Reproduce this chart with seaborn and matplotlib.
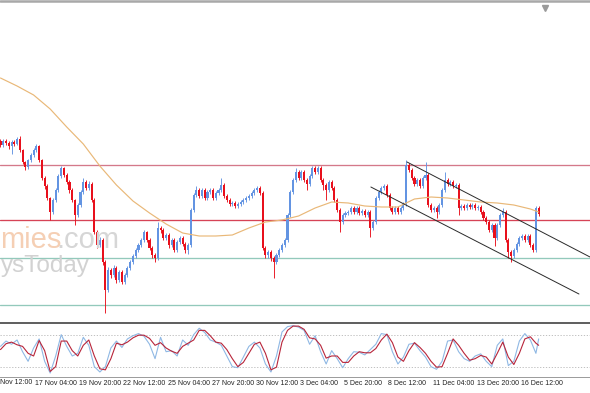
import numpy as np
import pandas as pd
import matplotlib
matplotlib.use("Agg")
import matplotlib.pyplot as plt
import matplotlib.transforms as mtrans
from matplotlib.lines import Line2D
import seaborn as sns

# ---------------- data (price units, bar index = 4h bars) ----------------
first_open = 189
closes = [185,189,187,184,188,186,191,180,168,163,
          170,175,180,184,170,152,144,132,118,130,
          140,154,162,155,148,140,130,115,125,138,
          148,142,146,130,98,85,90,68,40,60,
          55,62,50,58,48,55,62,68,74,80,
          85,90,98,90,82,75,72,102,100,92,
          95,85,90,80,88,92,86,80,85,120,
          135,140,134,140,132,138,140,132,137,140,
          145,134,130,126,127,124,126,128,130,132,
          134,137,140,142,137,82,75,78,72,68,
          75,80,85,90,115,138,150,158,152,158,
          150,146,154,162,158,162,150,145,140,148,
          142,130,120,108,115,117,118,122,118,122,
          117,119,115,118,102,108,132,138,142,144,
          135,122,118,122,118,122,126,165,160,152,
          146,150,144,152,155,125,120,122,118,125,
          140,150,146,148,144,145,122,124,122,125,
          123,125,122,123,118,112,108,100,105,92,
          105,115,118,90,78,74,80,86,92,94,
          90,94,85,80,122,116]
highs = [191,191,191,189,190,190,193,194,181,169,
         171,177,182,186,185,171,154,146,133,132,
         142,156,164,163,157,150,142,131,127,140,
         152,150,149,148,132,100,93,92,70,63,
         62,65,64,60,60,57,64,70,76,82,
         87,92,100,99,92,84,77,108,104,102,
         97,97,92,92,90,94,94,88,87,122,
         137,144,142,142,142,140,142,142,139,142,
         152,147,136,132,129,129,128,130,132,134,
         136,139,142,144,144,139,84,80,80,74,
         77,82,87,92,117,140,152,162,160,160,
         160,152,156,164,164,164,164,152,147,150,
         150,144,132,122,117,119,120,124,124,124,
         124,121,121,120,120,110,134,140,144,146,
         146,137,124,124,124,124,128,170,167,162,
         154,152,152,154,168,157,127,124,124,127,
         142,158,152,150,150,147,147,126,126,127,
         127,127,127,125,125,120,114,110,107,107,
         107,117,122,120,92,80,82,88,94,96,
         96,96,96,87,124,124]
lows = [183,183,185,181,176,184,185,178,166,160,
        161,168,173,178,168,150,141,130,110,116,
        128,138,152,153,146,137,128,105,113,123,
        136,140,140,128,96,82,83,65,17,38,
        52,53,47,48,46,46,53,60,66,72,
        78,83,88,88,80,72,68,70,97,90,
        90,82,83,78,78,86,84,77,76,83,
        118,133,132,132,130,130,136,130,130,135,
        138,132,128,124,124,122,122,124,126,128,
        130,132,135,138,135,80,72,72,69,52,
        66,73,78,83,88,113,136,148,150,150,
        148,140,144,152,156,156,148,140,130,138,
        140,128,118,98,106,113,115,116,116,116,
        115,115,113,113,93,100,106,130,136,140,
        133,120,116,116,116,116,120,124,158,150,
        144,144,142,142,150,123,118,118,112,116,
        123,138,144,144,142,142,115,120,120,120,
        121,121,120,120,116,110,106,98,98,84,
        90,103,113,88,72,68,72,78,84,90,
        88,88,83,78,78,114]

ma_bars = list(range(0, 193, 6)) + [195]
ma_values = [252,244,235,221,203,186,164,145,129,117,106,97,94,94,95,102,108,
             110,114,122,128,127,124,123,123,131,133,132,130,128,127,125,121,118]

stoch_bars = list(range(0, 196, 2)) + [195]
stoch_signal = [52,63,66,61,58,45,40,69,50,11,
                20,68,68,50,40,60,70,40,16,14,
                35,64,61,66,74,79,79,73,60,65,
                55,49,45,58,64,70,88,88,78,66,
                64,52,35,20,28,45,62,66,45,14,
                19,66,88,96,96,90,74,72,60,36,
                40,40,28,28,40,48,46,46,54,70,
                81,65,38,30,50,65,56,45,30,19,
                20,45,72,60,45,32,35,41,38,25,
                45,66,38,24,45,72,76,64,60]
stoch_main = [58,68,62,70,48,30,55,72,30,8,
              40,80,58,40,45,75,60,20,10,20,
              55,68,56,72,78,82,77,62,35,75,
              48,50,40,70,60,80,92,84,70,66,
              60,40,20,18,38,58,66,55,25,10,
              40,85,95,97,94,88,62,78,48,25,
              50,35,18,35,48,47,42,52,62,82,
              80,48,25,38,62,64,50,38,20,15,
              30,68,70,48,35,30,40,44,30,20,
              60,72,22,30,68,82,70,45,72]
stoch_levels = [80, 20]

resistance_levels = [165, 110]
support_levels = [72, 25]

channel_upper_bars = [147.3, 213.6]
channel_upper_prices = [168, 73]
channel_lower_bars = [134.2, 209.6]
channel_lower_prices = [143, 36]

tick_bars = list(range(12, 189, 16))
tick_labels = ["17 Nov 04:00", "19 Nov 20:00", "22 Nov 12:00",
               "25 Nov 04:00", "27 Nov 20:00", "30 Nov 12:00", "3 Dec 04:00",
               "5 Dec 20:00", "8 Dec 12:00", "11 Dec 04:00", "13 Dec 20:00",
               "16 Dec 12:00"]
first_label = "Nov 12:00"   # partially visible label at the left edge

# ---------------- build frame ----------------
opens = [first_open] + closes[:-1]
df = pd.DataFrame({"bar": np.arange(len(closes)), "open": opens, "close": closes,
                   "high": highs, "low": lows})
df["bull"] = df["close"] >= df["open"]
df["bottom"] = df[["open", "close"]].min(axis=1)
df["height"] = (df["close"] - df["open"]).abs().clip(lower=0.9)

sns.set_style("white")
plt.rcParams["font.family"] = ["Liberation Sans", "DejaVu Sans"]

W, H = 590, 393
fig = plt.figure(figsize=(W / 100, H / 100), dpi=100)
fig.patch.set_facecolor("white")

def fy(y):
    return 1 - y / H

ax = fig.add_axes([0, fy(320), 1, (320 - 3) / H])
ax2 = fig.add_axes([0, fy(377), 1, (377 - 322.7) / H])

XL = (-0.18, 213.6)
for a in (ax, ax2):
    a.set_xlim(*XL)
    a.set_facecolor("none")
    a.set_yticks([])
ax.set_ylim(10, 327)
ax2.set_ylim(0.6, 102.4)

# watermark
fig.text(0.5 / W, fy(248), "mies", ha="left", va="baseline", fontsize=21,
         color="#f5cfb4", zorder=0, family="Liberation Sans")
fig.text(56 / W, fy(248), ".com", ha="left", va="baseline", fontsize=21,
         color="#d6d6d6", zorder=0, family="Liberation Sans")
fig.text(0.5 / W, fy(272), "ysToday", ha="left", va="baseline", fontsize=17.5,
         color="#d2d2d2", zorder=0, family="Liberation Sans")

# horizontal levels
for lv, c in zip(resistance_levels, ["#d4798a", "#d64356"]):
    ax.axhline(lv, color=c, lw=0.95, zorder=1)
for lv in support_levels:
    ax.axhline(lv, color="#93c9bb", lw=0.95, zorder=1)

# candles
bull_c, bear_c = "#6394e2", "#e8101c"
cols = np.where(df["bull"], bull_c, bear_c)
ax.vlines(df["bar"], df["low"], df["high"], colors=cols, lw=0.65, zorder=2)
ax.bar(df["bar"], df["height"], bottom=df["bottom"], width=0.75, color=cols,
       linewidth=0, zorder=2.5)

# moving average
sns.lineplot(x=ma_bars, y=ma_values, ax=ax, color="#e9b878", lw=0.85, zorder=3)

# channel
ax.plot(channel_upper_bars, channel_upper_prices, color="#2a2a2a", lw=0.7, zorder=3)
ax.plot(channel_lower_bars, channel_lower_prices, color="#2a2a2a", lw=0.7, zorder=3)

# chart shift marker
ax.plot([197.3], [0.985], marker="v", ms=4, color="#9a9a9a",
        transform=mtrans.blended_transform_factory(ax.transData, ax.transAxes),
        clip_on=False)

for s in ax.spines.values():
    s.set_visible(False)
ax.set_xticks([])

# stochastic
for lv in stoch_levels:
    ax2.axhline(lv, color="#b5b5b5", lw=0.6, ls=(0, (1.5, 2.0)), zorder=1)
sns.lineplot(x=stoch_bars, y=stoch_main, ax=ax2, color="#8fb8e4", lw=0.8, zorder=2)
sns.lineplot(x=stoch_bars, y=stoch_signal, ax=ax2, color="#b8253a", lw=0.8, zorder=3)
ax2.set_ylabel("")
ax.set_ylabel("")
for side in ("left", "right"):
    ax2.spines[side].set_visible(False)
ax2.spines["top"].set_color("#505050")
ax2.spines["top"].set_linewidth(1.3)
ax2.spines["bottom"].set_color("#9a9a9a")
ax2.spines["bottom"].set_linewidth(0.7)

ax2.set_xticks(tick_bars)
ax2.set_xticklabels([])
ax2.tick_params(axis="x", direction="out", length=3, width=0.6, color="#444444")
tr = mtrans.blended_transform_factory(ax2.transData, ax2.transAxes) + \
    mtrans.ScaledTranslation(1.5 / 100, 0, fig.dpi_scale_trans)
for b, lab in zip(tick_bars, tick_labels):
    ax2.text(b, -0.115, lab, transform=tr, ha="left", va="center", fontsize=5.0,
             color="#222222", clip_on=False)
fig.text(0.5 / W, fy(383), first_label, ha="left", va="center", fontsize=5.0,
         color="#222222")

# top frame bar
fig.add_artist(Line2D([0, 1], [fy(1.2), fy(1.2)], color="#a8a8a8", lw=1.8))

fig.savefig("out.png", dpi=100)
